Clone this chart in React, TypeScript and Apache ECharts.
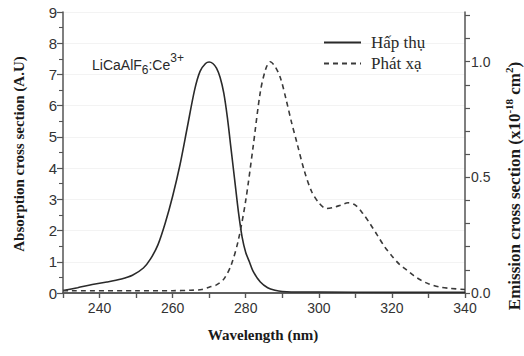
import React, { useEffect, useRef } from "react";
import * as echarts from "echarts";

// Absorption spectrum (left axis, A.U)
const absWavelength = [
  230, 234, 238, 242, 246, 249, 252, 254, 256, 258, 260, 262, 264, 266, 267.5,
  269, 270, 271, 272, 273, 274, 275, 276, 277, 278, 279, 280, 281, 282, 284,
  286, 288, 290, 295, 300, 320, 340,
];
const absValues = [
  0.08, 0.17, 0.27, 0.35, 0.45, 0.57, 0.8, 1.1, 1.55, 2.25, 3.1, 4.1, 5.3, 6.5,
  7.1, 7.35, 7.4, 7.35, 7.2, 6.9, 6.4, 5.6, 4.6, 3.6, 2.6, 1.8, 1.3, 1.0, 0.7,
  0.35, 0.17, 0.09, 0.05, 0.03, 0.03, 0.02, 0.02,
];

// Emission spectrum (right axis, x10^-18 cm^2)
const emWavelength = [
  230, 250, 260, 265, 268, 270, 272, 274, 276, 278, 280, 282, 284, 285.5, 286.7,
  288, 289.5, 291, 292.5, 294, 296, 298, 300, 302, 304, 306, 308, 310, 312, 314,
  316, 318, 320, 322, 324, 326, 328, 330, 333, 336, 340,
];
const emValues = [
  0.01, 0.01, 0.01, 0.012, 0.015, 0.025, 0.035, 0.06, 0.12, 0.23, 0.4, 0.63,
  0.87, 0.97, 1.0, 0.98, 0.93, 0.84, 0.74, 0.65, 0.53, 0.44, 0.39, 0.365, 0.37,
  0.38, 0.39, 0.38, 0.345, 0.3, 0.25, 0.2, 0.16, 0.125, 0.1, 0.075, 0.055, 0.04,
  0.026, 0.02, 0.015,
];

const seriesNames = ["Hấp thụ", "Phát xạ"];
const xLabels = [240, 260, 280, 300, 320, 340];
const rightLabels = [0, 0.5, 1.0];

const AXIS = "#555";
const INK = "#2a2a2a";
const SERIF = "'Liberation Serif', 'DejaVu Serif', serif";
const SANS = "'Liberation Sans', Arial, sans-serif";

export default function App() {
  const ref = useRef<HTMLDivElement>(null);

  useEffect(() => {
    if (!ref.current) return;
    document.body.style.margin = "0";
    const chart = echarts.init(ref.current, undefined, { renderer: "svg" });

    const tickLabel = { color: "#333", fontFamily: SANS, fontSize: 14 };

    chart.setOption({
      animation: false,
      backgroundColor: "#fff",
      grid: { left: 63, right: 59, top: 12, bottom: 63 },
      legend: {
        data: seriesNames,
        orient: "vertical",
        left: 323,
        top: 34,
        padding: 0,
        itemWidth: 37,
        itemHeight: 14,
        itemGap: 4,
        itemStyle: { opacity: 0 },
        formatter: (n: string) => `{a|${n}}`,
        textStyle: {
          rich: {
            a: { fontFamily: SERIF, fontSize: 17, color: INK, padding: [0, 0, 0, 5] },
          },
        },
      },
      xAxis: [
        {
          type: "value",
          min: 230,
          max: 340,
          interval: 10,
          position: "bottom",
          axisLine: { lineStyle: { color: AXIS, width: 1.5 } },
          axisTick: { inside: false, length: 5, lineStyle: { color: AXIS, width: 1.2 } },
          axisLabel: {
            ...tickLabel,
            margin: 8,
            formatter: (v: number) => (xLabels.includes(v) ? String(v) : ""),
          },
          splitLine: { show: false },
        },
        {
          type: "value",
          min: 230,
          max: 340,
          interval: 10,
          position: "top",
          axisLine: { lineStyle: { color: AXIS, width: 1.5 } },
          axisTick: { inside: true, length: 5, lineStyle: { color: AXIS, width: 1.2 } },
          axisLabel: { show: false },
          splitLine: { show: false },
        },
      ],
      yAxis: [
        {
          type: "value",
          min: 0,
          max: 9,
          interval: 1,
          position: "left",
          axisLine: { show: true, lineStyle: { color: AXIS, width: 1.5 } },
          axisTick: { show: true, length: 6, lineStyle: { color: AXIS, width: 1.2 } },
          minorTick: { show: true, splitNumber: 2, length: 4, lineStyle: { color: AXIS, width: 1.1 } },
          axisLabel: { ...tickLabel, fontSize: 15, margin: 6 },
          splitLine: { show: true, lineStyle: { color: "#f3f3f3", width: 1 } },
        },
        {
          type: "value",
          min: 0,
          max: 1.215,
          interval: 0.1,
          position: "right",
          axisLine: { show: true, lineStyle: { color: AXIS, width: 1.5 } },
          axisTick: { show: true, length: 5, lineStyle: { color: AXIS, width: 1.2 } },
          axisLabel: {
            ...tickLabel,
            fontSize: 14,
            margin: 6,
            showMaxLabel: false,
            formatter: (v: number) => {
              const hit = rightLabels.find((r) => Math.abs(r - v) < 1e-6);
              return hit === undefined ? "" : hit.toFixed(1);
            },
          },
          splitLine: { show: false },
        },
      ],
      series: [
        {
          name: seriesNames[0],
          type: "line",
          xAxisIndex: 0,
          yAxisIndex: 0,
          symbol: "none",
          smooth: 0.3,
          data: absWavelength.map((w, i) => [w, absValues[i]]),
          lineStyle: { color: INK, width: 1.6 },
          itemStyle: { color: INK },
        },
        {
          name: seriesNames[1],
          type: "line",
          xAxisIndex: 0,
          yAxisIndex: 1,
          symbol: "none",
          smooth: 0.3,
          data: emWavelength.map((w, i) => [w, emValues[i]]),
          lineStyle: { color: "#3a3a3a", width: 1.6, type: [5, 4] },
          itemStyle: { color: "#3a3a3a" },
        },
      ],
      graphic: [
        {
          type: "text",
          x: 92,
          y: 65,
          style: {
            text: "{a|LiCaAlF}{sub|6}{a|:Ce}{sup|3+}",
            verticalAlign: "middle",
            rich: {
              a: { fontFamily: SANS, fontSize: 14, fill: INK },
              sub: { fontFamily: SANS, fontSize: 12, fill: INK, padding: [10, 0, 0, 0] },
              sup: { fontFamily: SANS, fontSize: 12, fill: INK, padding: [0, 0, 14, 0] },
            },
          },
        },
        {
          type: "text",
          x: 19,
          y: 154,
          rotation: Math.PI / 2,
          style: {
            text: "Absorption cross section (A.U)",
            fontFamily: SERIF,
            fontWeight: "bold",
            fontSize: 15,
            fill: "#1a1a1a",
            align: "center",
            verticalAlign: "middle",
          },
        },
        {
          type: "text",
          x: 514,
          y: 186,
          rotation: Math.PI / 2,
          style: {
            text: "{t|Emission cross section (x10}{s|-18}{t| cm}{s|2}{t|)}",
            align: "center",
            verticalAlign: "middle",
            rich: {
              t: { fontFamily: SERIF, fontWeight: "bold", fontSize: 17, fill: "#1a1a1a" },
              s: { fontFamily: SERIF, fontWeight: "bold", fontSize: 11, fill: "#1a1a1a", padding: [0, 0, 10, 0] },
            },
          },
        },
        {
          type: "text",
          x: 263,
          y: 335,
          style: {
            text: "Wavelength (nm)",
            fontFamily: SERIF,
            fontWeight: "bold",
            fontSize: 15,
            fill: "#1a1a1a",
            align: "center",
            verticalAlign: "middle",
          },
        },
      ],
    });

    return () => chart.dispose();
  }, []);

  return (
    <div
      ref={ref}
      style={{ position: "absolute", left: 0, top: 0, width: 524, height: 356 }}
    />
  );
}
